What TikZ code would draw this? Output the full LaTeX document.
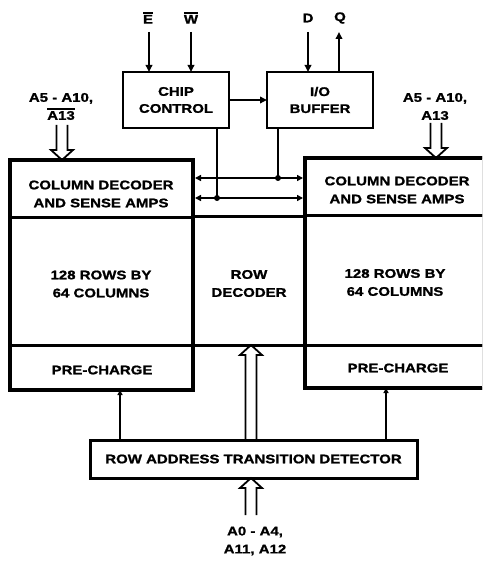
\documentclass[tikz,border=0pt]{standalone}
\usepackage{fontspec}
\setmainfont{Liberation Sans}[FakeStretch=1.2, BoldFeatures={FakeBold=1.3}]
\usetikzlibrary{calc,arrows.meta}

% bar over a signal name
\newcommand\topbar[1]{\leavevmode\vbox{\hrule height 1.3pt\kern1.3pt\hbox{#1}}}

% outlined block arrow from tail #1 to tip #2
\newcommand\hollowarrow[2]{%
  \coordinate (hb) at ($(#2)!10pt!(#1)$);
  \draw[hollow] ($(#1)!5.5pt!90:(#2)$) -- ($(hb)!5.5pt!-90:(#1)$)
    -- ($(hb)!11pt!-90:(#1)$) -- (#2) -- ($(hb)!11pt!90:(#1)$)
    -- ($(hb)!5.5pt!90:(#1)$) -- ($(#1)!5.5pt!-90:(#2)$);
}

\begin{document}
\begin{tikzpicture}[x=1pt,y=-1pt,
  txt/.style={font=\fontsize{12.5}{18}\selectfont\bfseries, inner sep=0pt, align=center},
  cell/.style={draw, line width=3pt, inner sep=0pt, outer sep=0pt},
  frame/.style={draw, line width=4pt},
  ctl/.style={draw, line width=2.6pt, inner sep=0pt, outer sep=0pt,
    minimum width=106pt, minimum height=56pt,
    font=\fontsize{12.5}{17}\selectfont\bfseries, align=center},
  wire/.style={line width=2pt},
  arr/.style={wire, -{Triangle[length=7pt,width=6.5pt]}},
  smallarr/.style={wire, -{Triangle[length=5pt,width=5pt]}},
  busarr/.style={wire, shorten <=2pt, shorten >=2pt,
    {Triangle[length=6pt,width=6pt]}-{Triangle[length=6pt,width=6pt]}},
  hollow/.style={line width=1.8pt, line join=miter},
  dot/.style={circle, fill, inner sep=0pt, minimum size=6pt}
]
\useasboundingbox (0,0) rectangle (482,561);
\clip (0,0) rectangle (482,561);

% left memory array
\node[cell, minimum width=183pt, minimum height=57pt]  (lcd) at (101.5,188.5) {};
\node[cell, minimum width=183pt, minimum height=128pt] (larr) at (101.5,281) {};
\node[cell, minimum width=183pt, minimum height=45pt]  (lpc) at (101.5,367.5) {};
\draw[frame] (lcd.north west) rectangle (lpc.south east);

% right memory array (runs past the right edge)
\node[cell, minimum width=179pt, minimum height=57pt]  (rcd) at (394.5,186.5) {};
\node[cell, minimum width=179pt, minimum height=130pt] (rarr) at (394.5,280) {};
\node[cell, minimum width=179pt, minimum height=43pt]  (rpc) at (394.5,366.5) {};
\draw[frame] (rcd.north west) rectangle (rpc.south east);

% row decoder between the arrays
\node[cell, minimum width=112pt, minimum height=129pt] (rd) at (249,280.5) {};

% block texts
\node[txt] (lcdt) at (101,194) {COLUMN DECODER\\AND SENSE AMPS};
\node[txt] (larrt) at (101,284) {128 ROWS BY\\64 COLUMNS};
\node[txt] (lpct) at (102,370) {PRE-CHARGE};
\node[txt] (rcdt) at (397,190) {COLUMN DECODER\\AND SENSE AMPS};
\node[txt] (rarrt) at (395,282.5) {128 ROWS BY\\64 COLUMNS};
\node[txt] (rpct) at (398,368) {PRE-CHARGE};
\node[txt] (rdt) at (249,283.5) {ROW\\DECODER};

% control blocks
\node[ctl] (cc) at (176,100) {CHIP\\CONTROL};
\node[ctl] (io) at (320,100) {I/O\\BUFFER};

% row address transition detector
\node[draw, line width=3pt, outer sep=0pt, minimum width=327pt, minimum height=38pt,
  txt] (det) at (253.5,459) {ROW ADDRESS TRANSITION DETECTOR};

% control inputs and data pins
\node[txt] (el) at (148,18) {\topbar{E}};
\node[txt] (wl) at (191,18) {\topbar{W}};
\node[txt] (dl) at (308,18) {D};
\node[txt] (ql) at (340,18) {Q};
\coordinate (ein) at (149,32);
\coordinate (win) at (191,32);
\coordinate (din) at (308,32);
\coordinate (qout) at (339,32);
\draw[arr] (ein) -- (ein |- cc.north);
\draw[arr] (win) -- (win |- cc.north);
\draw[arr] (din) -- (din |- io.north);
\draw[arr] (qout |- io.north) -- (qout);
\draw[arr] (cc.east) -- (io.west);

% internal buses to the column decoders
\coordinate (ubus) at (249,178);
\coordinate (lbus) at (249,198);
\draw[busarr] (ubus -| lcd.east) -- (ubus -| rcd.west);
\draw[busarr] (lbus -| lcd.east) -- (lbus -| rcd.west);
\coordinate (ccj) at (217,198);
\coordinate (ioj) at (278,178);
\draw[wire] (ccj |- cc.south) -- (ccj);
\draw[wire] (ioj |- io.south) -- (ioj);
\node[dot] (ccdot) at (ccj) {};
\node[dot] (iodot) at (ioj) {};

% column address inputs
\node[txt] (lal) at (61,106.5) {A5 - A10,\\\topbar{A13}};
\node[txt] (ral) at (435,106.5) {A5 - A10,\\A13};
\coordinate (laddr) at (62,125);
\coordinate (raddr) at (436,123);
\coordinate (ltip) at (laddr |- lcd.north);
\coordinate (rtip) at (raddr |- rcd.north);
\hollowarrow{laddr}{ltip}
\hollowarrow{raddr}{rtip}

% detector outputs
\coordinate (lpx) at (120,440);
\coordinate (rpx) at (386,440);
\draw[smallarr] (lpx |- det.north) -- (lpx |- lpc.south);
\draw[smallarr] (rpx |- det.north) -- (rpx |- rpc.south);
\coordinate (rdx) at (251,440);
\coordinate (rdtail) at (rdx |- det.north);
\coordinate (rdtip) at (rdx |- rd.south);
\hollowarrow{rdtail}{rdtip}

% row address inputs
\coordinate (raddrin) at (251,515);
\coordinate (dettip) at (raddrin |- det.south);
\hollowarrow{raddrin}{dettip}
\node[txt] (rowl) at (255,541) {A0 - A4,\\A11, A12};
\end{tikzpicture}
\end{document}
